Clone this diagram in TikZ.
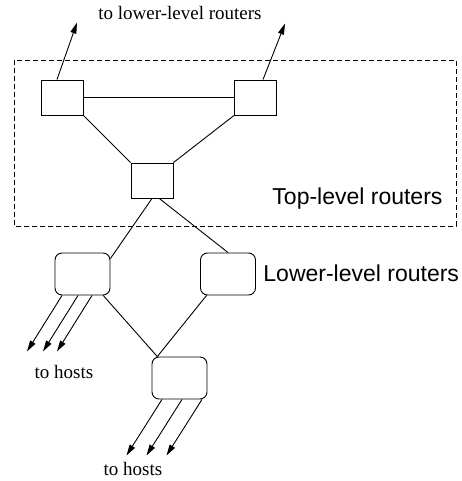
\documentclass[tikz,border=0pt]{standalone}
\usepackage{fontspec}
\setmainfont{Liberation Serif}
\newfontfamily\LabelFont{Liberation Sans}
\usetikzlibrary{arrows.meta}

\newcommand{\SmallText}{\fontsize{19}{22}\selectfont}
\newcommand{\BigText}{\LabelFont\fontsize{23}{27}\selectfont}

\tikzset{
  toprouter/.style={draw, rectangle, minimum width=42pt, minimum height=35pt, inner sep=0pt},
  lowrouter/.style={draw, rectangle, rounded corners=7pt, minimum width=55pt, minimum height=42pt, inner sep=0pt},
  link/.style={line width=0.9pt},
  outlink/.style={line width=0.9pt, -{Triangle[length=11pt,width=6pt]}},
}

\begin{document}
\begin{tikzpicture}[x=1pt, y=-1pt, line width=0.9pt]
  \useasboundingbox (0,0) rectangle (462,481);
  %
  % top-level routers
  \draw[dash pattern=on 5pt off 3pt] (14,60) rectangle (456,226);
  \node[toprouter] (tl)  at (62,97.5)    {};
  \node[toprouter] (tr)  at (255.5,97.5) {};
  \node[toprouter] (mid) at (152,180.5)  {};
  \node[anchor=base west, inner sep=0pt] (toplabel) at (272,204) {\BigText Top-level routers};
  %
  % lower-level routers
  \node[lowrouter] (ll)  at (82.5,274)  {};
  \node[lowrouter] (lr)  at (228,274)   {};
  \node[lowrouter] (bot) at (179.5,378) {};
  \node[anchor=base west, inner sep=0pt] (lowlabel) at (263,281.5) {\BigText Lower-level routers};
  %
  \draw[link] (tl) -- (tr);
  \draw[link] (tl.south east) -- (mid.north west);
  \draw[link] (tr.south west) -- (mid.north east);
  \draw[link] (mid.270) -- (ll.29);
  \draw[link] (mid.292) -- (lr.north);
  \draw[link] (ll.-46) -- (bot.136);
  \draw[link] (lr.225) -- (bot.136);
  %
  % upward links
  \draw[outlink] ([xshift=-5pt]tl.north) -- ++(20,-57);
  \draw[outlink] ([xshift=7.5pt]tr.north) -- ++(22,-56);
  \node[anchor=base, inner sep=0pt] (uplabel) at (180,20) {\SmallText to lower-level routers};
  %
  % links to hosts
  \foreach \dx in {-20.5,-4.5,9.5}
    \draw[outlink] ([xshift=\dx pt]ll.south) -- ++(-35,56);
  \foreach \dx in {-17.5,2.5,22.5}
    \draw[outlink] ([xshift=\dx pt]bot.south) -- ++(-35.5,56);
  \node[anchor=base, inner sep=0pt] (hostsa) at (64,378)  {\SmallText to hosts};
  \node[anchor=base, inner sep=0pt] (hostsb) at (133,475) {\SmallText to hosts};
\end{tikzpicture}
\end{document}
